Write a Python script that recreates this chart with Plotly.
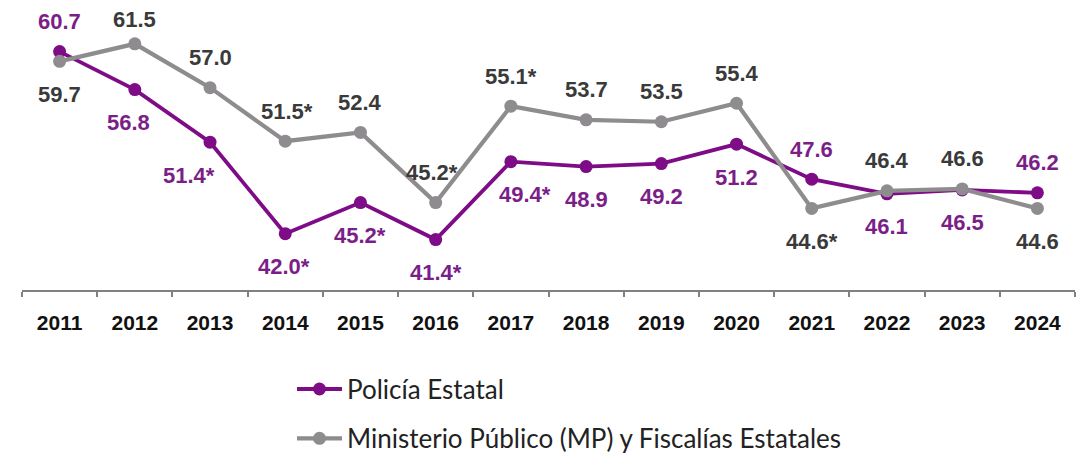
import plotly.graph_objects as go

years = ["2011", "2012", "2013", "2014", "2015", "2016", "2017",
         "2018", "2019", "2020", "2021", "2022", "2023", "2024"]

policia_values = [60.7, 56.8, 51.4, 42.0, 45.2, 41.4, 49.4, 48.9, 49.2, 51.2, 47.6, 46.1, 46.5, 46.2]
policia_labels = ["60.7", "56.8", "51.4*", "42.0*", "45.2*", "41.4*", "49.4*",
                  "48.9", "49.2", "51.2", "47.6", "46.1", "46.5", "46.2"]

mp_values = [59.7, 61.5, 57.0, 51.5, 52.4, 45.2, 55.1, 53.7, 53.5, 55.4, 44.6, 46.4, 46.6, 44.6]
mp_labels = ["59.7", "61.5", "57.0", "51.5*", "52.4", "45.2*", "55.1*",
             "53.7", "53.5", "55.4", "44.6*", "46.4", "46.6", "44.6"]

# label placement (style only): side of the point and horizontal nudge in px
policia_pos = ["above", "below", "below", "below", "below", "below", "below",
               "below", "below", "below", "above", "below", "below", "above"]
policia_dx = [0, -6, -21, -1, 0, 0, 14, 0, 0, 0, 0, 0, 0, 0]
mp_pos = ["below", "above", "above", "above", "above", "above", "above",
          "above", "above", "above", "below", "above", "above", "below"]
mp_dx = [0, 0, 0, 2, 0, -4, 0, 0, 0, 0, 0, 0, 0, 0]

PURPLE = "#7E0C86"
PURPLE_TXT = "#7B1E88"
GRAY = "#8E8C8E"
GRAY_TXT = "#3A3A3A"

Y_MIN, Y_MAX = 36.22, 65.18
PLOT_H = 285
px_per_unit = PLOT_H / (Y_MAX - Y_MIN)

fig = go.Figure()
fig.add_trace(go.Scatter(
    x=years, y=policia_values, mode="lines+markers", name="Policía Estatal",
    line=dict(color=PURPLE, width=3.8), marker=dict(color=PURPLE, size=13),
    legend="legend", hoverinfo="skip"))
fig.add_trace(go.Scatter(
    x=years, y=mp_values, mode="lines+markers", name="Ministerio Público (MP) y Fiscalías Estatales",
    line=dict(color=GRAY, width=4.2), marker=dict(color=GRAY, size=13),
    legend="legend2", hoverinfo="skip"))

annotations = []
for vs, ls, ps, dxs, col in [(mp_values, mp_labels, mp_pos, mp_dx, GRAY_TXT),
                             (policia_values, policia_labels, policia_pos, policia_dx, PURPLE_TXT)]:
    for i, (v, l, p, dx) in enumerate(zip(vs, ls, ps, dxs)):
        if p == "above":
            room = (Y_MAX - v) * px_per_unit - 12  # keep the label inside the figure
            shift = min(30, room)
        else:
            shift = -33
        annotations.append(dict(
            x=i, xref="x", y=v, yref="y", text="<b>" + l + "</b>", showarrow=False,
            yshift=shift, xshift=dx,
            font=dict(family="Liberation Sans", size=22, color=col)))

fig.update_layout(
    width=1087, height=454,
    margin=dict(l=14, r=20, t=0, b=454 - PLOT_H),
    paper_bgcolor="white", plot_bgcolor="white",
    showlegend=True,
    legend=dict(x=0.2564, y=-0.268, xanchor="left", yanchor="top", itemwidth=45,
                font=dict(family="Lato", size=26, color="#222"),
                bgcolor="rgba(0,0,0,0)"),
    legend2=dict(x=0.2564, y=-0.443, xanchor="left", yanchor="top", itemwidth=45,
                 font=dict(family="Lato", size=26, color="#222"),
                 bgcolor="rgba(0,0,0,0)"),
    annotations=annotations,
    xaxis=dict(type="category", tickson="boundaries", ticks="outside", ticklen=5,
               tickcolor="#808080", tickwidth=1.5, ticklabelstandoff=13,
               showline=True, linecolor="#808080", linewidth=1.5,
               showgrid=False, zeroline=False,
               tickfont=dict(family="Liberation Sans", size=21, color="#111", weight="bold"),
               range=[-0.5, 13.5]),
    yaxis=dict(range=[Y_MIN, Y_MAX], visible=False, showgrid=False, zeroline=False),
)

fig.write_html("out.html")
